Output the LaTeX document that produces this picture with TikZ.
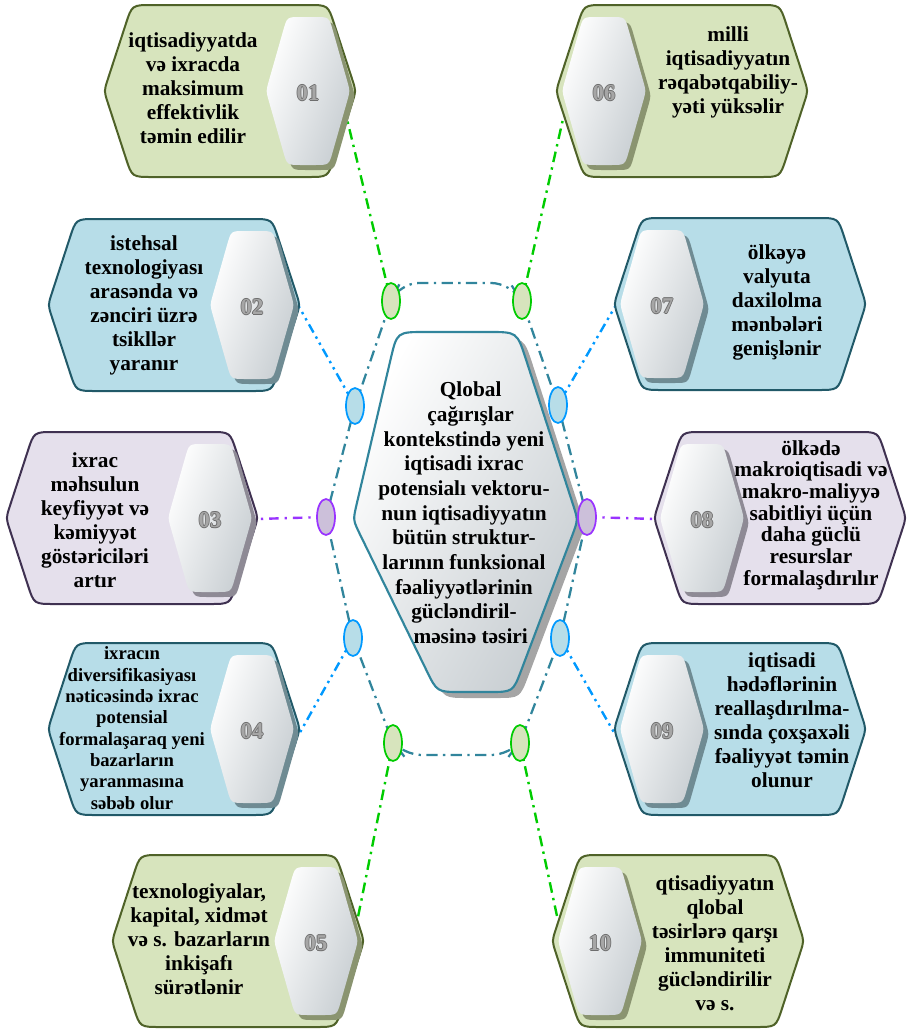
\documentclass[tikz,border=0pt]{standalone}
\usepackage{fontspec}
\setmainfont{Liberation Serif}
\usetikzlibrary{shapes.geometric}
\definecolor{olivef}{HTML}{D7E4BD}
\definecolor{olived}{HTML}{4F6228}
\definecolor{olives}{HTML}{8A9470}
\definecolor{bluef}{HTML}{B7DDE8}
\definecolor{blued}{HTML}{215968}
\definecolor{blues}{HTML}{6F8B93}
\definecolor{purpf}{HTML}{E5E0EC}
\definecolor{purpd}{HTML}{3F3151}
\definecolor{purps}{HTML}{8E8A95}
\definecolor{ringc}{HTML}{31859C}
\definecolor{gline}{HTML}{00CC00}
\definecolor{bline}{HTML}{0099FF}
\definecolor{pline}{HTML}{9933FF}
\definecolor{pellf}{HTML}{CCC0DA}
\definecolor{hexgray}{HTML}{C8CED2}
\definecolor{numgray}{HTML}{6E6E6E}
\definecolor{numlight}{HTML}{A6A6A6}
\definecolor{cshadow}{HTML}{A5A5A5}
\newcommand{\outnum}[1]{%
  \makebox[0pt]{\kern0.6pt\textcolor{numgray}{#1}\kern-0.6pt}%
  \makebox[0pt]{\kern-0.6pt\textcolor{numgray}{#1}\kern0.6pt}%
  \makebox[0pt]{\raisebox{0.6pt}{\textcolor{numgray}{#1}}}%
  \makebox[0pt]{\raisebox{-0.6pt}{\textcolor{numgray}{#1}}}%
  \makebox[0pt]{\textcolor{numlight}{#1}}}
\tikzset{
  boxline/.style={line width=1.5pt},
  innerhex/.style={left color=white, right color=hexgray, shading angle=70},
  numtext/.style={font=\fontsize{17}{17}\selectfont\bfseries, inner sep=0},
  boxtext/.style={font=\fontsize{16}{18}\selectfont\bfseries, align=center, inner sep=0},
  ctext/.style={font=\fontsize{16}{18.5}\selectfont\bfseries, align=center, inner sep=0},
  ringline/.style={ringc, line width=1.7pt, rounded corners=14, dash pattern=on 8.5pt off 4pt on 1.8pt off 4pt},
  gconn/.style={gline, line width=1.8pt, dash pattern=on 8pt off 4pt on 1.8pt off 4pt},
  bconn/.style={bline, line width=1.8pt, dash pattern=on 7pt off 3.5pt on 1.8pt off 3.5pt on 1.8pt off 3.5pt},
  pconn/.style={pline, line width=1.8pt, dash pattern=on 7pt off 4.5pt on 1.8pt off 4.5pt},
  ell/.style={ellipse, minimum width=13.5pt, minimum height=27pt, inner sep=0, line width=1.3pt},
  gell/.style={ell, draw=gline, fill=olivef},
  bell/.style={ell, draw=bline, fill=bluef},
  pell/.style={ell, draw=pline, fill=pellf},
}
\newcommand{\outerpath}{(0,-86) -- (78,-86) .. controls (98,-86) .. (104.2,-67) -- (122.3,-11.4) .. controls (126,0) .. (122.3,11.4) -- (104.2,67) .. controls (98,86) .. (78,86) -- (-78,86) .. controls (-98,86) .. (-104.2,67) -- (-122.3,11.4) .. controls (-126,0) .. (-122.3,-11.4) -- (-104.2,-67) .. controls (-98,-86) .. (-78,-86) -- cycle}
\newcommand{\innerpath}{(0,-74) -- (7,-74) .. controls (21,-74) .. (24.8,-60.5) -- (39.3,-9.6) .. controls (42,0) .. (39.3,9.6) -- (24.8,60.5) .. controls (21,74) .. (7,74) -- (-7,74) .. controls (-21,74) .. (-24.8,60.5) -- (-39.3,9.6) .. controls (-42,0) .. (-39.3,-9.6) -- (-24.8,-60.5) .. controls (-21,-74) .. (-7,-74) -- cycle}
\newcommand{\centerpath}{(457,332) -- (489,332) .. controls (517,332) .. (525.7,358.6) -- (573.1,504.8) .. controls (578,520) .. (572.4,535.0) -- (521.5,669.6) .. controls (513,692) .. (489,692) -- (461,692) .. controls (437,692) .. (426.5,670.4) -- (360.0,534.4) .. controls (353,520) .. (356.6,504.4) -- (390.6,359.3) .. controls (397,332) .. (425,332) -- cycle}
% #1 cx, #2 cy, #3 fill, #4 draw, #5 shadow, #6 side, #7 node name, #8 number
\newcommand{\hexbox}[8]{%
  \begin{scope}[shift={(#1,#2)}]
    \draw[boxline, draw=#4, fill=#3, insert path={\outerpath}];
    \begin{scope}[shift={(#6*78,0)}]
      \fill[#5, shift={(5,5)}, insert path={\innerpath}];
      \shade[innerhex, insert path={\innerpath}];
      \node[numtext] (#7) at (0,2) {\outnum{#8}};
    \end{scope}
  \end{scope}}
\begin{document}
\begin{tikzpicture}[x=0.75pt, y=-0.75pt]
\useasboundingbox (0,0) rectangle (908,1029);
% attachment coordinates on boxes
\coordinate (c1) at (346,115);
\coordinate (c6) at (563,119);
\coordinate (c2) at (298,305);
\coordinate (c7) at (616,305);
\coordinate (c3) at (256,519);
\coordinate (c8) at (656,519);
\coordinate (c4) at (298,736);
\coordinate (c9) at (616,736);
\coordinate (c5) at (357,922);
\coordinate (c10) at (557,916);
% ring corner coordinates
\coordinate (r1) at (400,283);
\coordinate (r2) at (510,283);
\coordinate (r3) at (510,755);
\coordinate (r4) at (403,755);
% ellipse positions
\coordinate (pG1) at (391,301);
\coordinate (pG2) at (522,301);
\coordinate (pB1) at (355,406);
\coordinate (pB2) at (558,405);
\coordinate (pP1) at (326,517);
\coordinate (pP2) at (587,517);
\coordinate (pB3) at (353,638);
\coordinate (pB4) at (560,638);
\coordinate (pG3) at (393,743);
\coordinate (pG4) at (520,743);
% connectors
\draw[gconn] (pG1) -- (c1);
\draw[gconn] (pG2) -- (c6);
\draw[bconn] (pB1) -- (c2);
\draw[bconn] (pB2) -- (c7);
\draw[pconn] (pP1) -- (c3);
\draw[pconn] (pP2) -- (c8);
\draw[bconn] (pB3) -- (c4);
\draw[bconn] (pB4) -- (c9);
\draw[gconn] (pG3) -- (c5);
\draw[gconn] (pG4) -- (c10);
% boxes
\hexbox{230}{91}{olivef}{olived}{olives}{1}{n1}{01}
\hexbox{174}{305}{bluef}{blued}{blues}{1}{n2}{02}
\hexbox{132}{518}{purpf}{purpd}{purps}{1}{n3}{03}
\hexbox{174}{729}{bluef}{blued}{blues}{1}{n4}{04}
\hexbox{238}{941}{olivef}{olived}{olives}{1}{n5}{05}
\hexbox{682}{91}{olivef}{olived}{olives}{-1}{n6}{06}
\hexbox{740}{304}{bluef}{blued}{blues}{-1}{n7}{07}
\hexbox{780}{518}{purpf}{purpd}{purps}{-1}{n8}{08}
\hexbox{740}{729}{bluef}{blued}{blues}{-1}{n9}{09}
\hexbox{678}{941}{olivef}{olived}{olives}{-1}{n10}{10}
% box texts
\node[boxtext] (t1) at (193,88) {iqtisadiyyatda\\və ixracda\\maksimum\\effektivlik\\təmin edilir};
\node[boxtext] (t2) at (144,305) {istehsal\\texnologiyası\\arasənda və\\zənciri üzrə\\tsikllər\\yaranır};
\node[boxtext] (t3) at (95,520) {ixrac\\məhsulun\\keyfiyyət və\\kəmiyyət\\göstəriciləri\\artır};
\node[boxtext, font=\fontsize{14}{16}\selectfont\bfseries] (t4) at (132,728) {ixracın\\diversifikasiyası\\nəticəsində ixrac\\potensial\\formalaşaraq yeni\\bazarların\\yaranmasına\\səbəb olur};
\node[boxtext] (t5) at (199,939) {texnologiyalar,\\kapital, xidmət\\və s. bazarların\\inkişafı\\sürətlənir};
\node[boxtext] (t6) at (728,72) {milli\\iqtisadiyyatın\\rəqabətqabiliy-\\yəti yüksəlir};
\node[boxtext] (t7) at (777,302) {ölkəyə\\valyuta\\daxilolma\\mənbələri\\genişlənir};
\node[boxtext, font=\fontsize{16}{16.3}\selectfont\bfseries] (t8) at (811,515) {ölkədə\\makroiqtisadi və\\makro-maliyyə\\sabitliyi üçün\\daha güclü\\resurslar\\formalaşdırılır};
\node[boxtext] (t9) at (782,720) {iqtisadi\\hədəflərinin\\reallaşdırılma-\\sında çoxşaxəli\\fəaliyyət təmin\\olunur};
\node[boxtext] (t10) at (715,943) {qtisadiyyatın\\qlobal\\təsirlərə qarşı\\immuniteti\\gücləndirilir\\və s.};
% ring
\draw[ringline] (pG1) -- (r1) -- (r2) -- (pG2) -- (pB2) -- (pP2) -- (pB4) -- (pG4) -- (r3) -- (r4) -- (pG3) -- (pB3) -- (pP1) -- (pB1) -- cycle;
% central hexagon
\fill[cshadow, shift={(7,6)}, insert path={\centerpath}];
\shade[left color=white, right color=hexgray, shading angle=60, draw=ringc, line width=1.6pt, insert path={\centerpath}];
\node[ctext] (ct) at (464,513) {\hspace*{10pt}Qlobal\\\hspace*{10pt}çağırışlar\\kontekstində yeni\\iqtisadi ixrac\\potensialı vektoru-\\nun iqtisadiyyatın\\bütün struktur-\\larının funksional\\fəaliyyətlərinin\\gücləndiril-\\\hspace*{10pt}məsinə təsiri};
% ellipses
\node[gell] (G1) at (pG1) {};
\node[gell] (G2) at (pG2) {};
\node[bell] (B1) at (pB1) {};
\node[bell] (B2) at (pB2) {};
\node[pell] (P1) at (pP1) {};
\node[pell] (P2) at (pP2) {};
\node[bell] (B3) at (pB3) {};
\node[bell] (B4) at (pB4) {};
\node[gell] (G3) at (pG3) {};
\node[gell] (G4) at (pG4) {};
\end{tikzpicture}
\end{document}
